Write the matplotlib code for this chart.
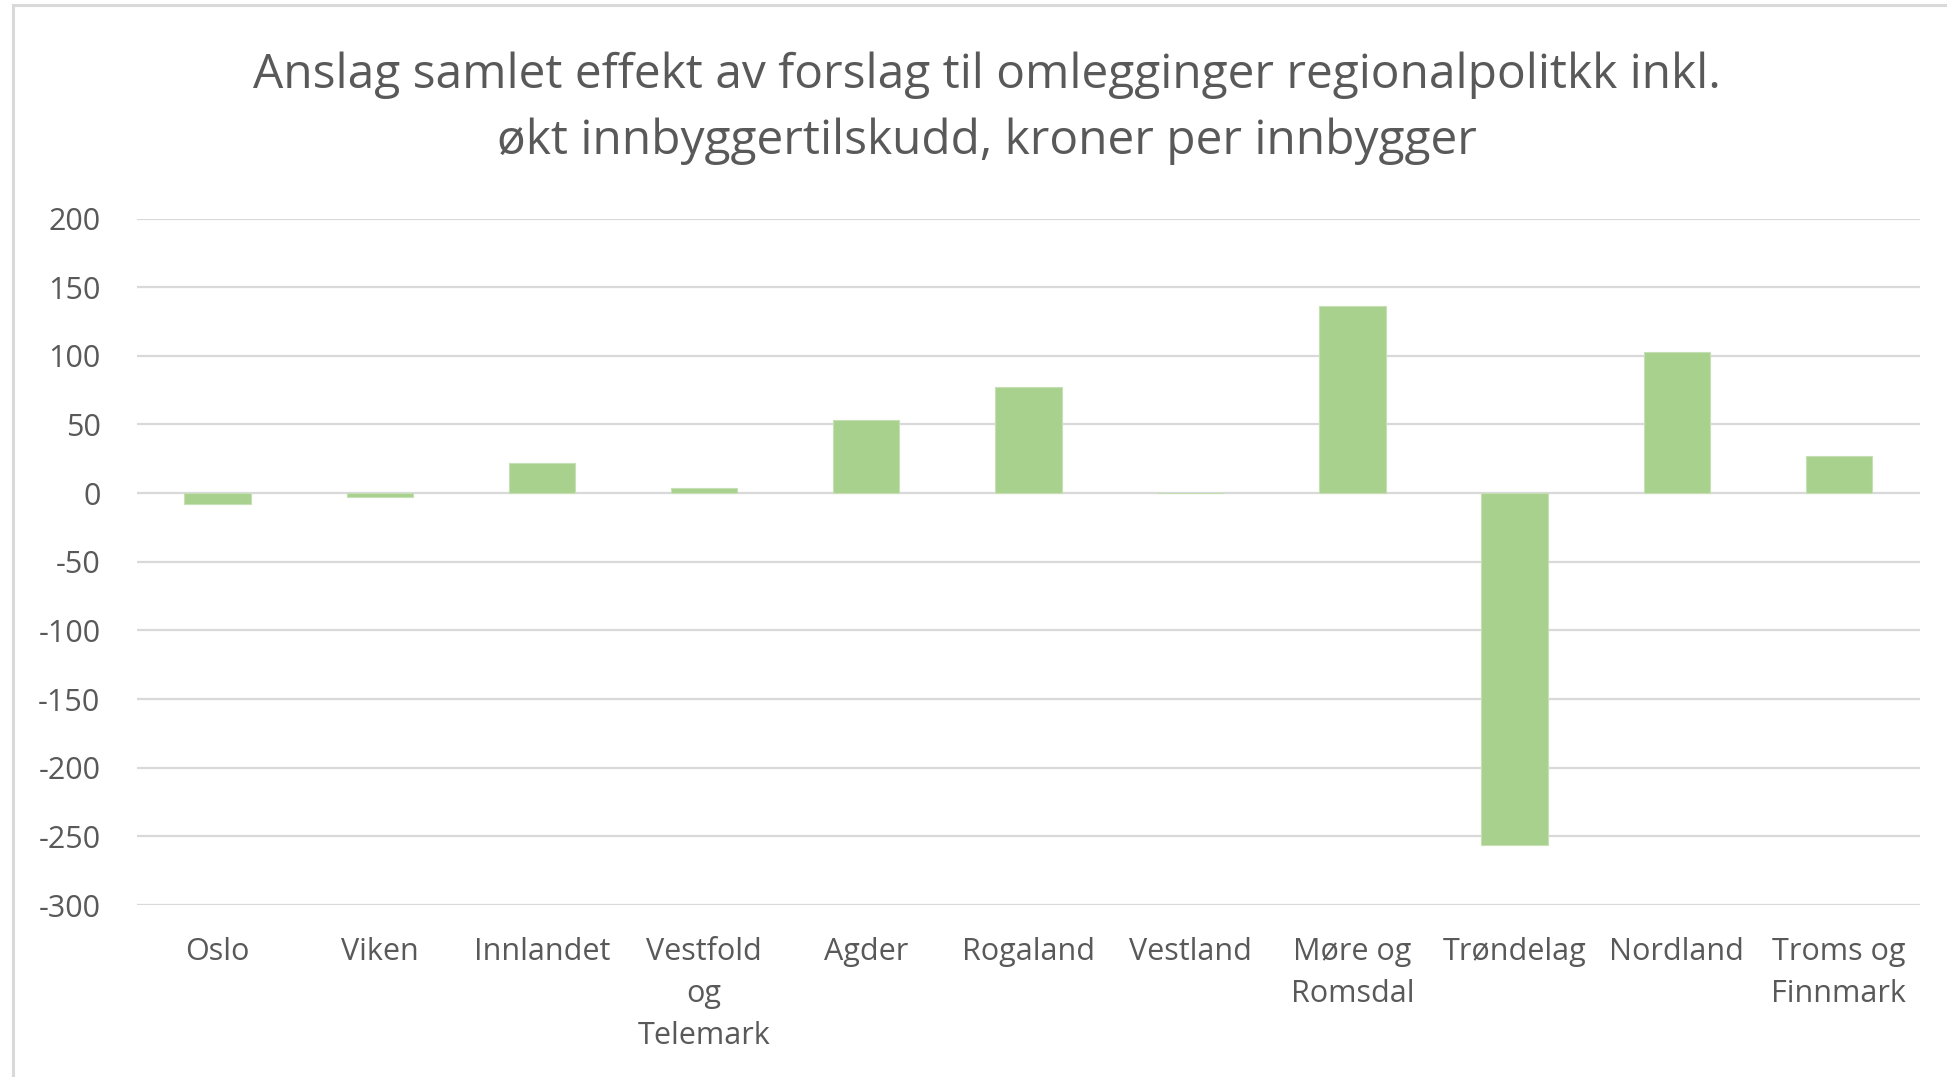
import matplotlib.pyplot as plt
import numpy as np
from matplotlib.patches import Rectangle

# ======================================
# Data
# ======================================
regions = ["Oslo", "Viken", "Innlandet", "Vestfold\nog\nTelemark", "Agder",
           "Rogaland", "Vestland", "Møre og\nRomsdal", "Trøndelag",
           "Nordland", "Troms og\nFinnmark"]
effect = [-8, -3, 22, 4, 53, 77, 0, 136, -256, 103, 27]

title = ("Anslag samlet effekt av forslag til omlegginger regionalpolitkk inkl.\n"
         "økt innbyggertilskudd, kroner per innbygger")

# ======================================
# Style
# ======================================
plt.rcParams.update({
    "font.family": ["Open Sans", "DejaVu Sans"],
    "axes.unicode_minus": False,
})

text_color = "#595959"
grid_color = "#D9D9D9"
bar_color = "#A9D18E"

W, H = 1947, 1077
fig = plt.figure(figsize=(W / 100, H / 100), dpi=100, facecolor="white")

# chart border (light grey frame, runs off right/bottom edge)
fig.patches.append(Rectangle((13 / W, -0.01), 1.0, 1 - 5 / H + 0.01,
                             transform=fig.transFigure, fill=False,
                             edgecolor="#D9D9D9", linewidth=2.2))

ax = fig.add_axes([136.6 / W, 1 - 905 / H, (1920 - 136.6) / W, (905 - 218.5) / H])

x = np.arange(len(regions))
ax.bar(x, effect, width=0.41, color=bar_color, edgecolor="#C5E0B4",
       linewidth=0.8, zorder=3)

ax.set_ylim(-300, 200)
ax.set_yticks(np.arange(-300, 201, 50))
ax.set_xlim(-0.5, len(regions) - 0.5)
ax.set_xticks(x)
ax.set_xticklabels(regions, linespacing=1.52)

ax.grid(axis="y", color=grid_color, linewidth=1.6, zorder=0)
ax.set_axisbelow(True)
for s in ax.spines.values():
    s.set_visible(False)

ax.tick_params(axis="both", length=0, colors=text_color, labelsize=22)
ax.tick_params(axis="y", pad=26)
ax.tick_params(axis="x", pad=23)

fig.text(0.507, 1 - 108 / H, title, ha="center", va="center",
         fontsize=34.5, color=text_color, linespacing=1.5)

fig.savefig("out.png", dpi=100, facecolor="white")
